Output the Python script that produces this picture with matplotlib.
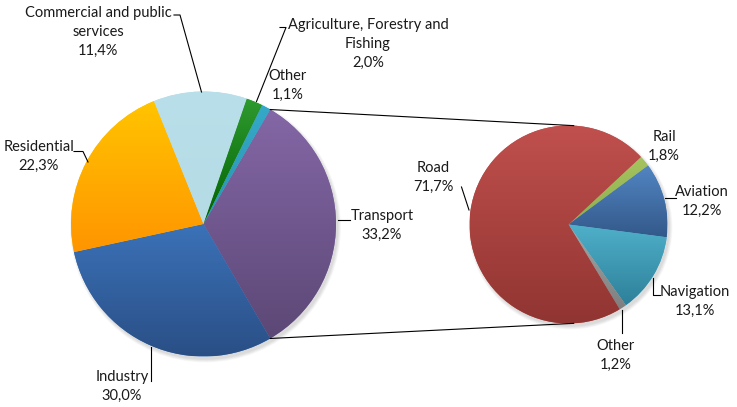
import numpy as np
import matplotlib
matplotlib.use("Agg")
import matplotlib.pyplot as plt
from matplotlib.colors import LinearSegmentedColormap

W, H = 737, 407

# main pie: energy use by sector (%)
sectors = ["Transport", "Industry", "Residential",
           "Commercial and public\nservices",
           "Agriculture, Forestry and\nFishing", "Other"]
sector_share = [33.2, 30.0, 22.3, 11.4, 2.0, 1.1]
sector_top = ["#8467a6", "#3b72b8", "#ffc400", "#b9dfea", "#2f9a2f", "#35a9c9"]
sector_bottom = ["#5c4876", "#2a4f86", "#ff9500", "#b5dbe5", "#006100", "#2c93b0"]

# secondary pie: split of transport (%)
modes = ["Rail", "Aviation", "Navigation", "Other", "Road"]
mode_share = [1.8, 12.2, 13.1, 1.2, 71.7]
mode_top = ["#a5c45f", "#5285c2", "#4fb0ca", "#a6a6a6", "#c0504d"]
mode_bottom = ["#8fae4f", "#33598a", "#2e8099", "#7f7f7f", "#913532"]

# label layout in pixels (x, y from top), plus leader polylines
sector_label_pos = [(382, 225), (122, 386), (39, 156), (98, 32), (368, 44), (288, 85)]
sector_leaders = [[(338, 220), (350, 220)],
                  [(151.5, 347), (151.5, 381)],
                  [(74, 151.5), (83, 151.5), (88, 162)],
                  [(174, 15), (180, 15), (201.5, 92)],
                  [(280, 27.5), (286, 27.5), (256.5, 101.5)],
                  []]
mode_label_pos = [(664, 146), (702, 201), (695, 301), (616, 355), (433, 177)]
mode_leaders = [[],
                [(665, 198), (676, 198)],
                [(653.5, 278), (653.5, 295), (660, 295)],
                [(622.5, 310), (622.5, 333)],
                [(461.5, 187), (469, 210)]]


def px(p):
    return p[0], H - p[1]


def shade(ax, wedges, tops, bottoms):
    grad = np.linspace(0, 1, 128).reshape(-1, 1)
    for w, c1, c2 in zip(wedges, tops, bottoms):
        bb = w.get_path().get_extents()
        cmap = LinearSegmentedColormap.from_list("g", [c2, c1])
        im = ax.imshow(grad, cmap=cmap, origin="lower", aspect="auto",
                       extent=(bb.x0, bb.x1, bb.y0, bb.y1), zorder=2,
                       interpolation="bilinear")
        im.set_clip_path(w)


def shadow(ax, center, r):
    for k in range(6):
        ax.add_patch(plt.Circle((center[0] + 2, center[1] - 3), r + 3 - k * 0.6,
                                color="#000000", alpha=0.025, lw=0, zorder=1))


fig = plt.figure(figsize=(W / 100, H / 100), dpi=100)
ax = fig.add_axes([0, 0, 1, 1])
plt.rcParams["font.family"] = ["Lato", "DejaVu Sans"]

c1, r1 = px((203.5, 224)), 132.5
c2, r2 = px((568.5, 224.5)), 99

shadow(ax, c1, r1)
shadow(ax, c2, r2)

start1 = sector_share[0] / sum(sector_share) * 360 / 2
w1, _ = ax.pie(sector_share, colors=sector_top, startangle=start1,
               counterclock=False, center=c1, radius=r1,
               wedgeprops=dict(linewidth=0, zorder=2), frame=True)
w2, _ = ax.pie(mode_share, colors=mode_top, startangle=43,
               counterclock=False, center=c2, radius=r2,
               wedgeprops=dict(linewidth=0, zorder=2), frame=True)
shade(ax, w1, sector_top, sector_bottom)
shade(ax, w2, mode_top, mode_bottom)

# connector lines from the transport wedge to the secondary pie
tw = w1[0]
for a_left, a_right in [(tw.theta2, 87), (tw.theta1, -87)]:
    p = (c1[0] + r1 * np.cos(np.radians(a_left)), c1[1] + r1 * np.sin(np.radians(a_left)))
    q = (c2[0] + r2 * np.cos(np.radians(a_right)), c2[1] + r2 * np.sin(np.radians(a_right)))
    ax.plot([p[0], q[0]], [p[1], q[1]], color="#000000", lw=0.8, zorder=3)

pct = lambda v: f"{v:.1f}".replace(".", ",") + "%"

for name, v, pos, lead in zip(sectors, sector_share, sector_label_pos, sector_leaders):
    x, y = px(pos)
    ax.text(x, y, f"{name}\n{pct(v)}", ha="center", va="center",
            multialignment="center", fontsize=10.5, color="#1a1a1a",
            linespacing=1.45, zorder=4)
    if lead:
        xs, ys = zip(*[px(p) for p in lead])
        ax.plot(xs, ys, color="#000000", lw=0.8, zorder=4)

for name, v, pos, lead in zip(modes, mode_share, mode_label_pos, mode_leaders):
    x, y = px(pos)
    ax.text(x, y, f"{name}\n{pct(v)}", ha="center", va="center",
            multialignment="center", fontsize=10.5, color="#1a1a1a",
            linespacing=1.45, zorder=4)
    if lead:
        xs, ys = zip(*[px(p) for p in lead])
        ax.plot(xs, ys, color="#000000", lw=0.8, zorder=4)

ax.set_xlim(0, W)
ax.set_ylim(0, H)
ax.set_aspect("equal")
ax.axis("off")

fig.savefig("out.png", dpi=100)
